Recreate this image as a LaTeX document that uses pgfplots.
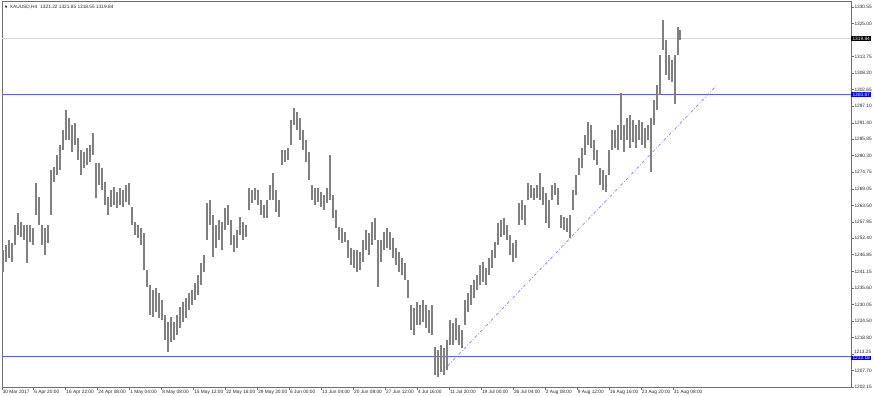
\documentclass[border=0pt]{standalone}
\usepackage{fontspec}
\setmainfont{Liberation Sans}
\newfontfamily\dejavu{DejaVu Sans}
\usepackage{pgfplots}
\pgfplotsset{compat=1.18}
\usepackage{pgfplotstable}
\definecolor{barc}{RGB}{128,128,128}
\definecolor{lvl}{RGB}{90,90,255}
\definecolor{trend}{RGB}{130,130,255}
\definecolor{framec}{RGB}{110,110,110}
\definecolor{bidc}{RGB}{215,215,215}

\pgfplotstableread{
x lo hi
3 1241.01 1248.44
6 1244.39 1250.13
9 1245.74 1251.82
12 1244.39 1250.81
15 1250.13 1256.89
18 1253.51 1260.95
21 1252.84 1257.91
24 1251.82 1256.89
27 1244.05 1256.89
30 1251.15 1256.89
33 1250.13 1255.88
36 1260.27 1271.09
39 1256.89 1266.36
42 1250.13 1256.89
45 1246.75 1255.88
48 1250.81 1256.89
51 1260.27 1275.48
54 1271.42 1276.49
57 1273.79 1280.55
60 1275.48 1283.92
63 1282.23 1288.99
66 1285.61 1295.75
69 1285.61 1293.05
72 1281.56 1290.68
75 1283.92 1291.36
78 1278.86 1286.29
81 1273.79 1282.23
84 1276.15 1281.56
87 1277.17 1282.91
90 1278.18 1283.92
93 1280.55 1287.98
96 1266.02 1277.84
99 1270.41 1277.84
102 1268.72 1276.15
105 1263.65 1271.42
108 1260.27 1266.36
111 1262.98 1268.72
114 1263.65 1269.73
117 1262.64 1268.04
120 1263.65 1269.39
123 1262.98 1268.72
126 1264.67 1270.41
129 1263.65 1271.09
132 1256.89 1262.98
135 1253.51 1257.91
138 1252.50 1256.89
141 1250.13 1255.88
144 1241.69 1254.19
147 1235.94 1241.69
150 1226.48 1236.62
153 1225.80 1234.93
156 1227.49 1235.60
159 1225.47 1233.91
162 1224.79 1231.55
165 1218.03 1226.48
168 1213.98 1224.12
171 1217.36 1225.80
174 1218.03 1224.12
177 1219.72 1226.48
180 1222.09 1229.18
183 1224.12 1230.87
186 1225.47 1232.22
189 1228.17 1233.91
192 1229.86 1234.93
195 1231.55 1237.29
198 1233.24 1240.00
201 1236.62 1244.05
204 1241.01 1246.75
207 1251.82 1264.33
210 1256.89 1265.34
213 1246.08 1260.27
216 1249.12 1256.89
219 1251.82 1258.58
222 1248.44 1257.91
225 1255.20 1262.64
228 1256.89 1263.65
231 1250.13 1258.58
234 1247.77 1253.51
237 1249.12 1255.20
240 1253.51 1259.60
243 1251.82 1257.91
246 1252.84 1256.89
249 1261.96 1269.39
252 1264.33 1268.72
255 1265.34 1269.39
258 1263.65 1268.72
261 1260.27 1265.34
264 1259.26 1263.65
267 1259.26 1265.34
270 1265.34 1270.41
273 1265.34 1274.46
276 1261.29 1268.72
279 1259.60 1265.34
282 1277.17 1282.23
285 1278.18 1282.23
288 1278.86 1282.91
291 1283.92 1292.37
294 1290.68 1296.43
297 1288.99 1295.08
300 1285.61 1293.05
303 1282.23 1288.99
306 1278.18 1285.61
309 1272.10 1281.56
312 1265.34 1270.41
315 1263.65 1269.39
318 1264.67 1269.39
321 1262.98 1268.04
324 1261.96 1267.03
327 1264.33 1269.39
330 1265.34 1280.55
333 1259.26 1267.03
336 1255.88 1261.96
339 1251.82 1256.22
342 1250.81 1255.88
345 1251.15 1254.53
348 1245.74 1251.82
351 1243.38 1249.12
354 1242.36 1248.44
357 1241.01 1248.44
360 1241.69 1247.77
363 1244.39 1251.82
366 1248.44 1255.20
369 1246.75 1254.19
372 1250.13 1257.91
375 1251.82 1259.26
378 1235.94 1251.82
381 1244.39 1251.82
384 1248.44 1254.53
387 1249.12 1255.88
390 1248.44 1254.53
393 1245.74 1252.50
396 1243.38 1249.12
399 1241.01 1247.77
402 1240.00 1245.74
405 1238.31 1244.05
408 1232.22 1238.31
411 1221.41 1229.86
414 1219.72 1228.85
417 1223.10 1230.87
420 1223.10 1229.86
423 1224.12 1231.55
426 1222.09 1229.86
429 1220.40 1228.17
432 1219.72 1229.86
435 1206.21 1215.67
438 1205.53 1214.66
441 1207.22 1216.35
444 1206.21 1215.33
447 1207.90 1218.03
450 1216.35 1224.79
453 1216.35 1223.78
456 1218.03 1225.47
459 1216.35 1223.10
462 1215.33 1221.41
465 1223.10 1231.55
468 1227.49 1233.91
471 1229.86 1236.62
474 1232.22 1238.31
477 1234.93 1240.00
480 1236.62 1243.38
483 1237.63 1244.39
486 1236.62 1242.36
489 1240.00 1245.74
492 1242.36 1248.44
495 1245.74 1251.15
498 1250.13 1257.57
501 1252.84 1258.58
504 1253.51 1259.26
507 1251.82 1256.89
510 1246.75 1253.51
513 1244.39 1250.81
516 1245.74 1251.82
519 1256.89 1264.33
522 1258.58 1265.34
525 1256.89 1263.65
528 1265.34 1271.09
531 1266.02 1270.41
534 1265.34 1269.39
537 1266.02 1270.41
540 1265.34 1274.46
543 1263.65 1269.73
546 1257.57 1267.71
549 1255.88 1265.34
552 1265.34 1270.41
555 1267.03 1271.09
558 1263.65 1269.39
561 1255.88 1260.27
564 1255.20 1259.60
567 1254.53 1259.26
570 1252.50 1260.27
573 1261.96 1268.72
576 1267.03 1273.79
579 1273.79 1279.53
582 1276.15 1282.91
585 1280.55 1287.30
588 1283.92 1291.70
591 1282.91 1290.68
594 1278.86 1285.61
597 1277.17 1282.23
600 1270.41 1276.15
603 1268.72 1275.48
606 1268.04 1273.79
609 1273.79 1282.23
612 1282.23 1288.99
615 1282.91 1288.99
618 1282.23 1290.68
621 1285.61 1301.50
624 1281.56 1290.68
627 1285.61 1293.05
630 1282.91 1294.06
633 1284.94 1292.37
636 1282.91 1290.68
639 1285.61 1292.37
642 1283.92 1291.70
645 1282.91 1289.67
648 1285.61 1290.68
651 1274.80 1293.05
654 1290.68 1299.13
657 1295.75 1304.20
660 1300.82 1314.34
663 1316.03 1326.16
666 1307.58 1319.40
669 1305.89 1314.34
672 1305.21 1312.65
675 1297.78 1314.34
678 1314.34 1323.80
680 1319.40 1322.78
}\bars

\begin{document}
\begin{tikzpicture}
\useasboundingbox (-2bp,-9bp) rectangle (872bp,387bp);
\begin{axis}[
  at={(0,0)}, anchor=south west, scale only axis,
  width=849bp, height=386bp,
  xmin=2, xmax=851, ymin=1202.15, ymax=1332.58,
  clip=false,
  axis line style={framec, line width=0.8bp},
  xtick pos=bottom, ytick pos=right, yticklabel pos=right,
  tick align=outside, major tick length=2.5bp,
  tick style={framec, line width=0.5bp},
  xtick={2,33.67,65.64,97.61,129.58,161.55,193.52,225.49,257.46,289.43,321.4,353.37,385.34,417.31,449.28,481.25,513.22,545.19,577.16,609.13,641.1,673.07},
  xticklabels={30 Mar 2017,6 Apr 20:00,16 Apr 22:00,24 Apr 08:00,1 May 04:00,8 May 08:00,15 May 12:00,22 May 16:00,29 May 20:00,6 Jun 00:00,13 Jun 04:00,20 Jun 08:00,27 Jun 12:00,4 Jul 16:00,11 Jul 20:00,19 Jul 00:00,26 Jul 04:00,2 Aug 08:00,9 Aug 12:00,16 Aug 16:00,23 Aug 20:00,31 Aug 08:00},
  xticklabel style={font=\fontsize{4.8}{5}\selectfont, anchor=north west, inner sep=0.6bp, text=black!85},
  ytick={1202.15,1207.70,1218.80,1224.50,1230.05,1235.60,1241.15,1246.85,1252.40,1257.95,1263.50,1269.05,1274.75,1280.30,1285.85,1291.40,1297.10,1302.65,1308.20,1313.75,1325.00,1330.55},
  yticklabels={1202.15,1207.70,1218.80,1224.50,1230.05,1235.60,1241.15,1246.85,1252.40,1257.95,1263.50,1269.05,1274.75,1280.30,1285.85,1291.40,1297.10,1302.65,1308.20,1313.75,1325.00,1330.55},
  yticklabel style={font=\fontsize{4.8}{5}\selectfont, anchor=west, inner sep=0.8bp, text=black!85},
  extra y ticks={1213.25},
  extra y tick labels={1213.25},
  extra y tick style={yticklabel style={yshift=2bp, inner sep=0.3bp}},
]
% bid line and horizontal levels
\addplot[bidc, line width=0.8bp, mark=none] coordinates {(2,1319.84) (851,1319.84)};
\addplot[lvl, line width=1.1bp, mark=none] coordinates {(2,1300.87) (851,1300.87)};
\addplot[lvl, line width=1.1bp, mark=none] coordinates {(2,1212.40) (851,1212.40)};
% trend line
\addplot[trend, line width=0.7bp, mark=none, dash pattern=on 3bp off 2bp on 0.8bp off 2bp] coordinates {(437,1205.53) (717,1304.20)};
% price bars (low to high)
\addplot[barc, line width=2.7bp, mark=none, -,
  quiver={u=0, v=\thisrow{hi}-\thisrow{lo}}]
  table[x=x, y=lo] {\bars};
% price tags
\node[fill=black, text=white, anchor=west, inner xsep=1bp, inner ysep=0.8bp, minimum width=20bp, font=\fontsize{4.8}{5}\selectfont] at (axis cs:851,1319.84) {1319.84};
\node[fill=blue, text=white, anchor=west, inner xsep=1bp, inner ysep=0.8bp, minimum width=20bp, font=\fontsize{4.8}{5}\selectfont] at (axis cs:851,1300.87) {1300.87};
\node[fill=blue, text=white, anchor=west, inner xsep=1bp, inner ysep=0.6bp, minimum width=20bp, font=\fontsize{4.8}{5}\selectfont] at (axis cs:851,1212.00) {1212.16};
% title
\node[anchor=west, inner sep=0pt, font=\fontsize{4.8}{5}\selectfont, text=black!85] at (axis description cs:0.003,0.984) {{\dejavu\fontsize{3.5}{4}\selectfont ▼}\hspace{2.5bp}XAUUSD,H4\hspace{3bp}1321.22 1321.85 1318.55 1319.84};
\end{axis}
\end{tikzpicture}
\end{document}
